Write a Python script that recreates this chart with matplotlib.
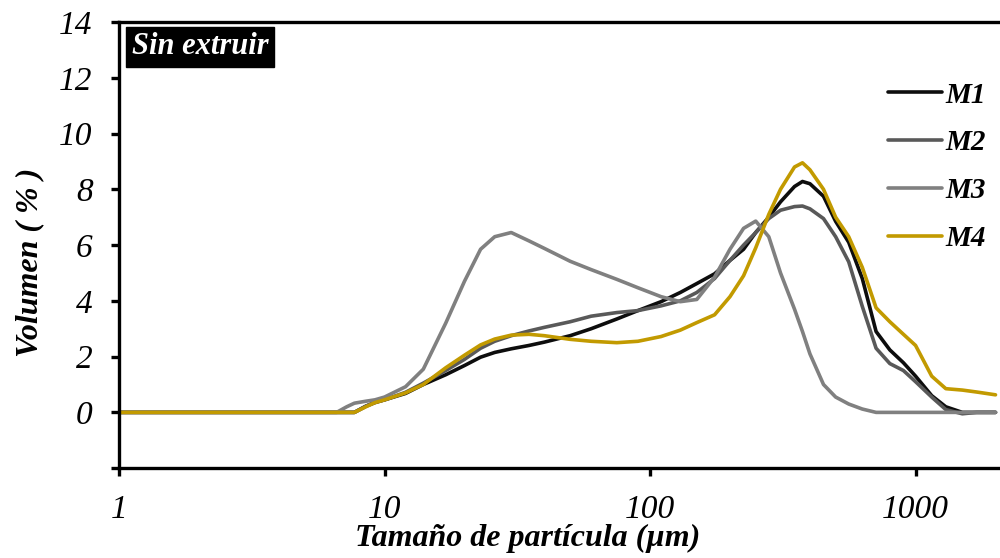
import numpy as np
import matplotlib
matplotlib.use("Agg")
import matplotlib.pyplot as plt

# tamaño de partícula (um) y volumen (%)
tamano = [1, 6.6, 7.2, 7.7, 8.5, 9.2, 10, 12, 14, 17, 20, 23, 26, 30, 35, 40, 50, 60,
          75, 90, 110, 130, 150, 175, 200, 225, 250, 280, 310, 350, 375, 400, 450,
          500, 560, 630, 710, 800, 900, 1000, 1150, 1300, 1500, 1700, 2000]

m1 = [0, 0, 0, 0, 0.22, 0.35, 0.45, 0.68, 1.0, 1.35, 1.68, 1.98, 2.15, 2.28,
      2.4, 2.52, 2.75, 3.0, 3.35, 3.65, 3.97, 4.3, 4.62, 4.97, 5.45, 5.85, 6.45,
      7.0, 7.55, 8.1, 8.28, 8.2, 7.75, 6.85, 6.1, 4.8, 2.9, 2.24, 1.78, 1.3, 0.6,
      0.2, 0, 0, 0]

m2 = [0, 0, 0, 0, 0.22, 0.37, 0.45, 0.72, 1.05, 1.5, 1.9, 2.3, 2.55, 2.75,
      2.92, 3.05, 3.25, 3.45, 3.58, 3.65, 3.82, 4.0, 4.3, 4.8, 5.45, 6.0, 6.45,
      6.95, 7.25, 7.38, 7.4, 7.3, 6.95, 6.3, 5.4, 3.8, 2.3, 1.75, 1.5, 1.1, 0.55,
      0.1, -0.05, 0, 0]

m3 = [0, 0, 0.2, 0.33, 0.4, 0.45, 0.55, 0.92, 1.55, 3.2, 4.7, 5.85, 6.3, 6.45,
      6.15, 5.88, 5.42, 5.12, 4.77, 4.47, 4.15, 3.97, 4.05, 4.85, 5.85, 6.6, 6.86,
      6.3, 5.0, 3.7, 2.9, 2.1, 1.0, 0.55, 0.3, 0.12, 0, 0, 0, 0, 0, 0, 0, 0, 0]

m4 = [0, 0, 0, 0, 0.2, 0.35, 0.45, 0.7, 1.0, 1.6, 2.05, 2.42, 2.63, 2.77,
      2.8, 2.75, 2.62, 2.55, 2.5, 2.55, 2.72, 2.95, 3.22, 3.5, 4.15, 4.9, 5.9,
      7.1, 8.0, 8.8, 8.95, 8.7, 8.0, 7.0, 6.3, 5.2, 3.75, 3.25, 2.8, 2.4, 1.3,
      0.85, 0.8, 0.73, 0.63]

series = [("M1", m1, "#0d0d0d"), ("M2", m2, "#595959"),
          ("M3", m3, "#808080"), ("M4", m4, "#c29a00")]

plt.rcParams['font.family'] = ['Liberation Serif', 'DejaVu Serif']

fig = plt.figure(figsize=(10, 5.58), dpi=100)
ax = fig.add_axes([0.119, 0.161, 0.8875, 0.7996])

for nombre, vals, color in series:
    ax.plot(tamano, vals, color=color, lw=2.6, label=nombre, solid_capstyle='round')

ax.set_xscale('log')
ax.set_xlim(1, 2200)
ax.set_ylim(-2, 14)
ax.set_xticks([1, 10, 100, 1000])
ax.set_xticklabels(['1', '10', '100', '1000'])
ax.minorticks_off()
ax.set_yticks(range(-2, 15, 2))
ax.set_yticklabels([''] + [str(v) for v in range(0, 15, 2)])

for s in ['left', 'bottom', 'top']:
    ax.spines[s].set_linewidth(2.4)
ax.spines['right'].set_visible(False)
ax.tick_params(axis='both', direction='out', length=6, width=2.4,
               labelsize=24, pad=13)
for lbl in ax.get_xticklabels() + ax.get_yticklabels():
    lbl.set_fontstyle('italic')

ax.set_xlabel('Tamaño de partícula (µm)', fontsize=23, fontweight='bold',
              fontstyle='italic')
ax.xaxis.set_label_coords(0.46, -0.125)
ax.set_ylabel('Volumen ( % )', fontsize=23, fontweight='bold', fontstyle='italic')
ax.yaxis.set_label_coords(-0.084, 0.462)

ax.text(0.0145, 0.977, 'Sin extruir', transform=ax.transAxes, fontsize=22,
        fontweight='bold', fontstyle='italic', color='white', va='top', ha='left',
        bbox=dict(facecolor='black', edgecolor='black', pad=4))

leg = ax.legend(loc='upper right', bbox_to_anchor=(1.006, 0.925), frameon=False,
                handlelength=1.85, handletextpad=0.12, labelspacing=0.71,
                prop={'size': 21, 'weight': 'bold', 'style': 'italic'})

fig.savefig('out.png', dpi=100)
